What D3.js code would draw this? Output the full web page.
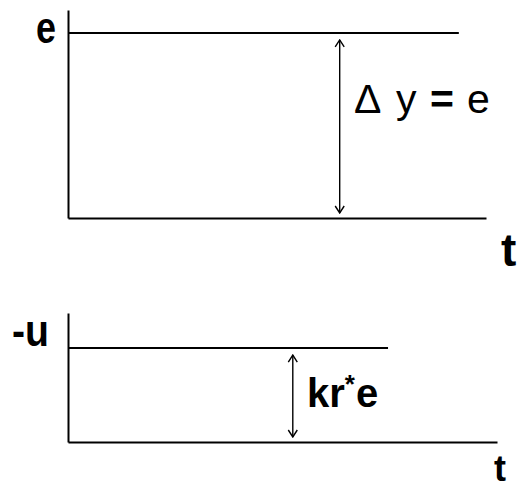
<!DOCTYPE html>
<html>
<head>
<meta charset="utf-8">
<script src="https://cdn.jsdelivr.net/npm/d3@7"></script>
<style>
  body { margin: 0; background: #fff; }
  text { font-family: "Liberation Sans", Arial, sans-serif; fill: #000; }
</style>
</head>
<body>
<svg class="chart" width="520" height="489"></svg>
<script>
// step levels, in units of e (bottom one is kr*e)
const yLabels = ["e", "-u"];
const stepLevel = [1, 0.51];
const stepEnd = [9.35, 7.46]; // t where the level line stops
const arrowAt = [6.5, 5.24];  // t of the double arrow
const tLabel = "t";

const svg = d3.select(".chart");

// two panels, same px per unit vertically
const panels = [
  { x: [68, 486], y: [218, 10], yMax: 1.124 },
  { x: [68, 497], y: [442, 313], yMax: 0.7 },
];

// open V arrow head, pointing along +x
svg
  .append("defs")
  .append("marker")
  .attr("id", "head")
  .attr("viewBox", "-9 -6 10 12")
  .attr("refX", 0)
  .attr("refY", 0)
  .attr("markerWidth", 10)
  .attr("markerHeight", 12)
  .attr("markerUnits", "userSpaceOnUse")
  .attr("orient", "auto-start-reverse")
  .append("path")
  .attr("d", "M-7,-4.5 L0,0 L-7,4.5")
  .attr("fill", "none")
  .attr("stroke", "#000")
  .attr("stroke-width", 1.4);

panels.forEach((p, i) => {
  const x = d3.scaleLinear().domain([0, 10]).range(p.x);
  const y = d3.scaleLinear().domain([0, p.yMax]).range(p.y);
  const g = svg.append("g");

  // axes, no ticks
  g.append("g")
    .attr("transform", `translate(0,${y(0)})`)
    .call(d3.axisBottom(x).ticks(0).tickSizeOuter(0))
    .select(".domain")
    .attr("stroke-width", 2);
  g.append("g")
    .attr("transform", `translate(${x(0)},0)`)
    .call(d3.axisLeft(y).ticks(0).tickSizeOuter(0))
    .select(".domain")
    .attr("stroke-width", 2);

  // step level
  g.append("line")
    .attr("x1", x(0))
    .attr("x2", x(stepEnd[i]))
    .attr("y1", y(stepLevel[i]))
    .attr("y2", y(stepLevel[i]))
    .attr("stroke", "#000")
    .attr("stroke-width", 2);

  // double arrow between 0 and level
  g.append("line")
    .attr("x1", x(arrowAt[i]))
    .attr("x2", x(arrowAt[i]))
    .attr("y1", y(stepLevel[i]) + 7)
    .attr("y2", y(0) - 5)
    .attr("stroke", "#000")
    .attr("stroke-width", 1.4)
    .attr("marker-start", "url(#head)")
    .attr("marker-end", "url(#head)");

  // y label (squeezed a bit like the original)
  g.append("text")
    .attr("x", i === 0 ? 36 : 12)
    .attr("y", i === 0 ? 43 : 346)
    .attr("font-size", 44)
    .attr("font-weight", "bold")
    .attr("textLength", i === 0 ? 20 : 37)
    .attr("lengthAdjust", "spacingAndGlyphs")
    .text(yLabels[i]);

  // t label
  g.append("text")
    .attr("x", i === 0 ? 501 : 494)
    .attr("y", i === 0 ? 266 : 481)
    .attr("font-size", i === 0 ? 46 : 36)
    .attr("font-weight", "bold")
    .text(tLabel);
});

// annotations
const topNote = svg.append("text").attr("y", 113).attr("font-size", 41);
topNote.append("tspan").attr("x", 354).text("Δ");
topNote.append("tspan").attr("x", 396).text("y");
topNote.append("tspan").attr("x", 430).attr("font-weight", "bold").text("=");
topNote.append("tspan").attr("x", 467).text("e");

const botNote = svg
  .append("text")
  .attr("x", 307)
  .attr("y", 407)
  .attr("font-size", 40)
  .attr("font-weight", "bold");
botNote.append("tspan").text("kr");
botNote.append("tspan").attr("dy", -14).attr("font-size", 26).text("*");
botNote.append("tspan").attr("dy", 14).attr("dx", 1).text("e");
</script>
</body>
</html>
